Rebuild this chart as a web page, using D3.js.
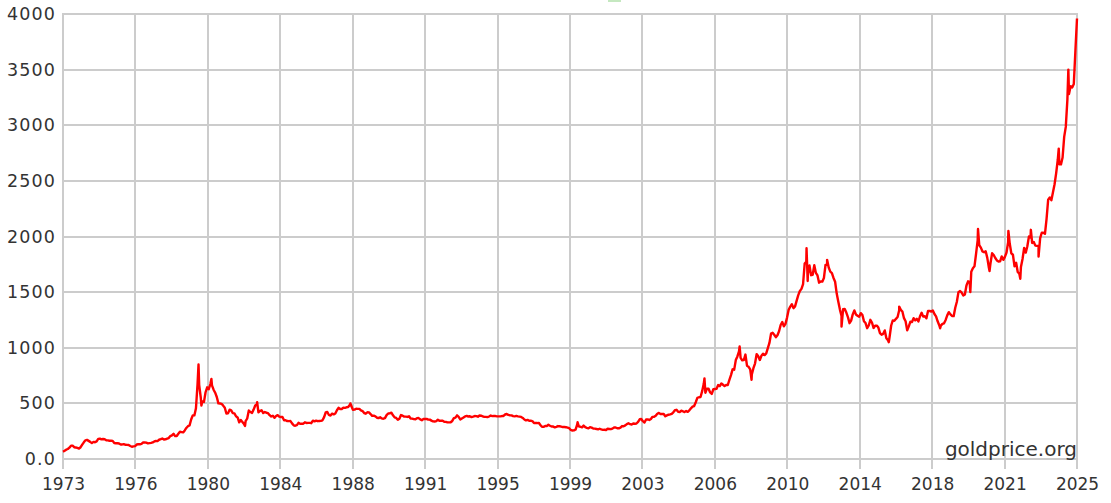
<!DOCTYPE html>
<html>
<head>
<meta charset="utf-8">
<script src="https://cdn.jsdelivr.net/npm/d3@7"></script>
<style>
  html, body { margin: 0; padding: 0; background: #fff; }
  svg { display: block; }
  text { font-family: "DejaVu Sans", Verdana, sans-serif; fill: #333; }
</style>
</head>
<body>
<svg id="chart" width="1111" height="503"></svg>
<script>
// ---- Data (monthly gold price, USD/oz) ----
const startYear = 1973;
const prices1970s = [
  65,74,84,90,102,120,120,106,103,100,94,106,
  129,150,168,172,163,154,143,154,151,158,181,183,
  176,180,178,169,167,164,165,163,144,142,142,139,
  131,131,133,128,127,126,117,110,114,116,130,133,
  132,136,148,149,147,141,143,145,149,158,162,161,
  173,178,184,175,177,183,188,206,212,227,206,207,
  227,245,242,239,257,279,295,301,355,392,392,456
];
const prices1980s = [
  675,665,553,517,513,600,644,627,674,662,623,596,
  557,500,499,496,480,461,409,410,443,437,413,410,
  384,374,330,350,333,314,340,364,436,422,414,444,
  481,491,419,432,438,413,422,416,412,394,382,388,
  370,386,394,381,377,378,348,348,341,340,341,320,
  303,299,304,325,316,317,317,330,324,325,325,322,
  345,338,345,340,342,343,348,376,418,423,396,390,
  408,401,409,438,460,450,450,461,460,465,467,486,
  476,442,444,452,451,451,437,431,413,407,420,419,
  404,388,390,384,371,367,375,365,362,367,394,409
];
const prices1990s = [
  410,416,393,374,369,352,362,395,389,381,381,378,
  384,364,363,358,357,367,368,356,349,359,360,361,
  354,354,345,338,337,341,353,343,345,344,335,334,
  329,329,330,342,367,372,392,379,355,364,373,383,
  387,382,384,377,381,386,385,380,391,389,384,379,
  379,376,382,391,385,387,386,383,383,383,386,387,
  400,405,396,393,392,385,383,387,383,381,378,369,
  355,347,352,344,344,341,324,324,323,325,306,289,
  289,297,296,308,299,292,293,284,289,296,294,291,
  287,287,286,282,277,261,256,257,265,311,294,290
];
const prices2000s = [
  284,300,286,280,275,286,282,274,273,270,266,272,
  266,262,263,261,272,270,268,273,283,283,276,276,
  282,296,294,302,314,321,313,310,319,317,319,333,
  357,359,340,328,355,356,351,360,379,379,389,407,
  414,405,406,404,384,392,398,401,406,420,439,442,
  424,423,434,429,422,431,424,437,456,470,476,510,
  549,555,557,610,676,596,633,632,598,585,627,629,
  631,665,655,679,667,655,665,665,712,754,806,803,
  889,922,968,909,888,889,939,839,829,806,760,816,
  858,943,924,890,928,946,934,949,996,1043,1127,1134
];
const prices2010s = [
  1117,1095,1113,1148,1205,1232,1193,1215,1271,1342,1370,1391,
  1356,1372,1424,1473,1510,1529,1573,1756,1772,1665,1739,1652,
  1656,1742,1673,1650,1585,1596,1594,1626,1744,1747,1721,1684,
  1671,1627,1593,1487,1414,1343,1286,1347,1349,1316,1275,1221,
  1244,1300,1336,1299,1288,1279,1311,1296,1239,1222,1176,1200,
  1251,1227,1178,1198,1199,1181,1131,1117,1125,1156,1086,1068,
  1097,1200,1246,1242,1260,1276,1337,1341,1326,1266,1238,1157,
  1192,1234,1231,1266,1246,1260,1236,1283,1314,1280,1283,1265,
  1331,1331,1325,1335,1303,1282,1238,1202,1199,1215,1220,1250,
  1291,1320,1300,1285,1284,1359,1413,1500,1510,1495,1470,1479
];
const prices2020s = [
  1560,1597,1591,1683,1715,1732,1846,1968,1921,1900,1866,1858,
  1867,1808,1718,1760,1850,1834,1807,1785,1775,1777,1821,1790,
  1817,1856,1948,1937,1849,1836,1732,1764,1681,1665,1726,1798,
  1898,1855,1912,2000,1992,1942,1951,1918,1916,1915,1985,2034,
  2034,2024,2158,2331,2351,2326,2398,2470,2570,2690,2650,2648,
  2710,2895,2985,3230,3280,3350,3340,3370,3670
];
// intra-month extremes visible on the chart: [decimal year, price]
const spikes = [
  [1980.05, 850], [1980.2, 480], [1980.72, 720], [1982.47, 297], [1983.1, 510],
  [1987.95, 500], [1999.77, 330], [2006.37, 725], [2008.2, 1011], [2008.82, 712],
  [2011.68, 1895], [2011.74, 1600], [2012.75, 1790], [2013.5, 1190], [2015.96, 1050],
  [2016.5, 1370], [2018.63, 1175], [2020.2, 1500], [2020.6, 2067], [2021.2, 1690],
  [2022.18, 2050], [2022.8, 1620], [2023.35, 2060], [2023.75, 1820], [2024.8, 2790],
  [2025.3, 3500], [2025.75, 3960]
];
const xTickLabels = ["1973","1976","1980","1984","1988","1991","1995","1999","2003","2006","2010","2014","2018","2021","2025"];
const yTickValues = [0,500,1000,1500,2000,2500,3000,3500,4000];
const yTickLabels = ["0.0","500","1000","1500","2000","2500","3000","3500","4000"];
const endYear = 2025.75;
const watermark = "goldprice.org";

// ---- Build series ----
const monthly = [].concat(prices1970s, prices1980s, prices1990s, prices2000s, prices2010s, prices2020s)
  .map((v, i) => [startYear + i / 12, v]);
const series = monthly.concat(spikes).sort((a, b) => a[0] - b[0]);

// ---- Layout ----
const svg = d3.select("#chart");
const plotLeft = 63, plotRight = 1077, plotTop = 13, plotBottom = 459;

const x = d3.scaleLinear().domain([startYear, endYear]).range([plotLeft, plotRight]);
const y = d3.scaleLinear().domain([0, 4000]).range([plotBottom, plotTop + 1]);

const xTickValues = xTickLabels.map((_, i) => startYear + i * (endYear - startYear) / (xTickLabels.length - 1));

// grid
const grid = svg.append("g").attr("stroke", "#cccccc").attr("stroke-width", 1.5).attr("shape-rendering", "crispEdges");
grid.selectAll("line.h").data(yTickValues).join("line")
  .attr("x1", plotLeft).attr("x2", plotRight)
  .attr("y1", d => Math.round(y(d))).attr("y2", d => Math.round(y(d)));
grid.selectAll("line.v").data(xTickValues).join("line")
  .attr("x1", d => Math.round(x(d))).attr("x2", d => Math.round(x(d)))
  .attr("y1", plotTop).attr("y2", plotBottom + 10);

// small clipped legend mark at the very top
svg.append("rect").attr("x", 608).attr("y", 0).attr("width", 13).attr("height", 2).attr("fill", "#c5e8c0");

// y axis labels
const yAxis = d3.axisLeft(y).tickValues(yTickValues).tickFormat((d, i) => yTickLabels[i]).tickSize(0).tickPadding(7);
const gy = svg.append("g").attr("transform", `translate(${plotLeft},0)`).call(yAxis);
gy.select(".domain").remove();
gy.selectAll("text").attr("font-size", 17.5).attr("letter-spacing", "1.1px")
  .attr("font-family", "DejaVu Sans").style("fill", "#333");

// x axis labels
const xAxis = d3.axisBottom(x).tickValues(xTickValues).tickFormat((d, i) => xTickLabels[i]).tickSize(0).tickPadding(19);
const gx = svg.append("g").attr("transform", `translate(0,${plotBottom})`).call(xAxis);
gx.select(".domain").remove();
gx.selectAll("text").attr("font-size", 17).attr("font-family", "DejaVu Sans").style("fill", "#333");

// line
const line = d3.line().x(d => x(d[0])).y(d => y(d[1]));
svg.append("path").datum(series)
  .attr("d", line)
  .attr("fill", "none")
  .attr("stroke", "#ff0000")
  .attr("stroke-width", 2.4)
  .attr("stroke-linejoin", "round");

// watermark
svg.append("text").attr("x", plotRight).attr("y", 456).attr("text-anchor", "end")
  .attr("font-size", 20).style("fill", "#333").text(watermark);
</script>
</body>
</html>
